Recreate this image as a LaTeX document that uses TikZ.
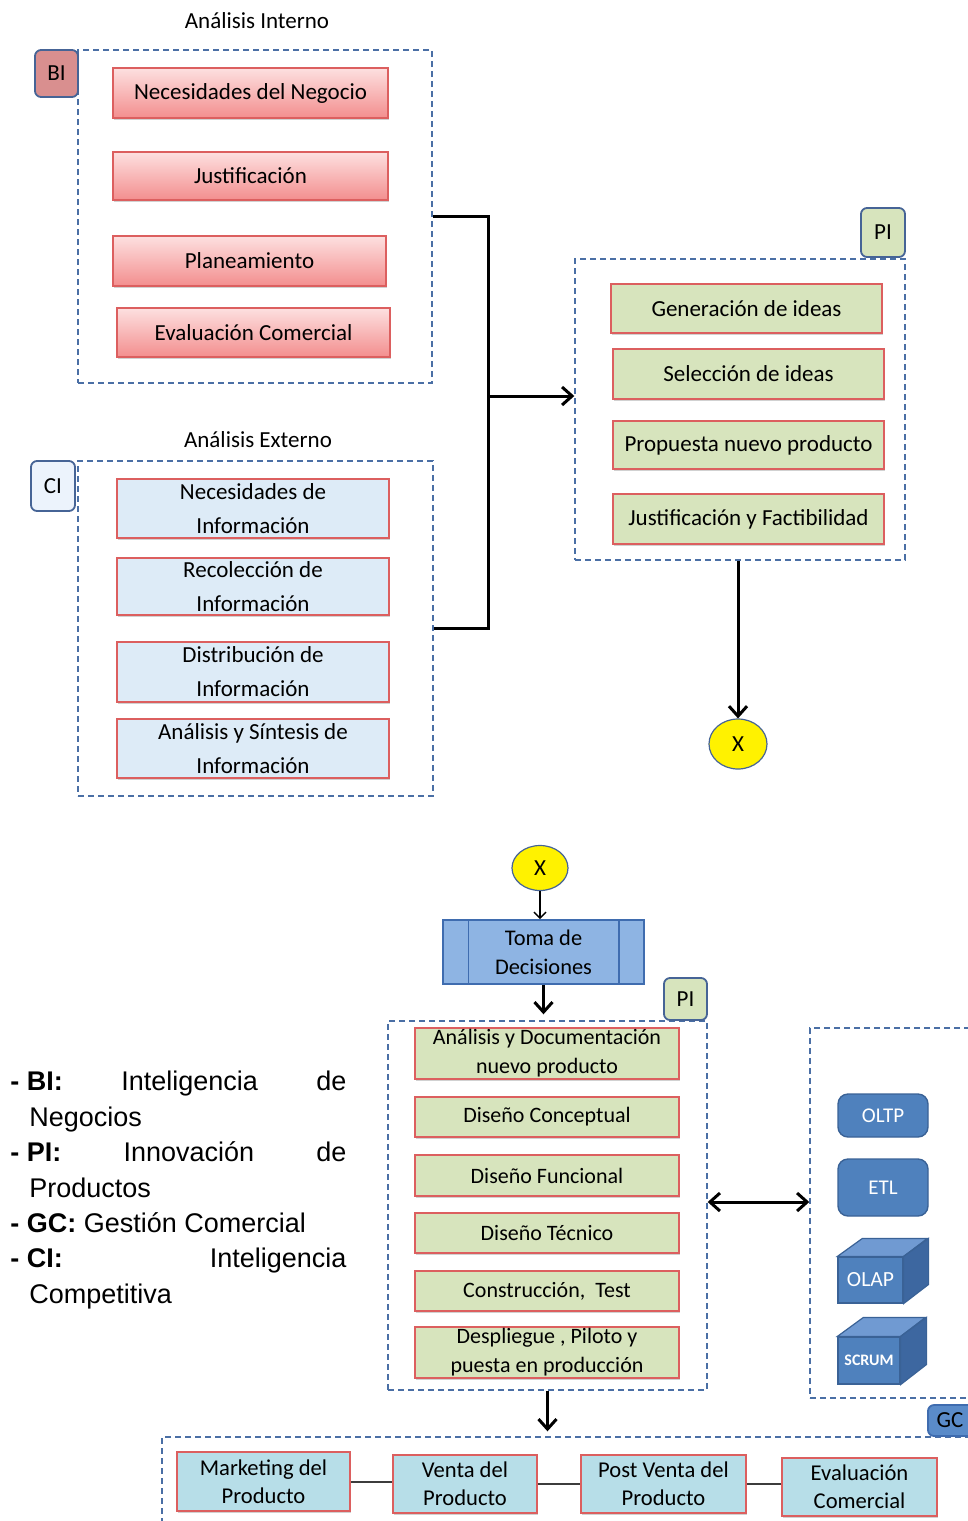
\documentclass[tikz,border=0pt]{standalone}
\usepackage{fontspec}
\setmainfont{Carlito}
\newfontfamily\legendfont{Liberation Sans}
\usetikzlibrary{arrows.meta,shadows,calc,shapes.geometric}

\definecolor{dashblue}{RGB}{74,111,165}
\definecolor{tagedge}{RGB}{70,100,150}
\definecolor{redtop}{RGB}{253,224,224}
\definecolor{redbot}{RGB}{243,142,142}
\definecolor{rededge}{RGB}{220,95,95}
\definecolor{greenfill}{RGB}{215,228,189}
\definecolor{paleblue}{RGB}{221,235,247}
\definecolor{cyanfill}{RGB}{183,222,232}
\definecolor{tomafill}{RGB}{142,180,227}
\definecolor{tomaedge}{RGB}{63,108,175}
\definecolor{toolblue}{RGB}{79,129,189}
\definecolor{tooledge}{RGB}{58,98,150}
\definecolor{tooltop}{RGB}{112,154,210}
\definecolor{toolside}{RGB}{61,103,160}
\definecolor{tagred}{RGB}{217,143,143}
\definecolor{tagblue}{RGB}{236,243,252}
\definecolor{gctagfill}{RGB}{90,139,201}
\definecolor{linkgray}{RGB}{60,60,60}

% box from its corners: style, name, x1, y1, x2, y2, text
\newcommand\placebox[7]{%
  \node[#1, minimum width={(#5)*0.5pt-(#3)*0.5pt},
        minimum height={(#6)*0.5pt-(#4)*0.5pt}]
       (#2) at ({((#3)+(#5))/2},{((#4)+(#6))/2}) {#7};}
% one legend entry: abbreviation and meaning
\newcommand\legendentry[2]{\hangindent=9.5pt\hangafter=1
  \mbox{\textbf{- #1:}}\ #2\par}

\begin{document}
\begin{tikzpicture}[x=0.5pt,y=-0.5pt,
  font=\fontsize{11.5}{14}\selectfont,
  group/.style={draw=dashblue, dash pattern=on 3pt off 2pt, line width=0.7pt, inner sep=0},
  tag/.style={draw=tagedge, line width=0.9pt, rounded corners=3pt, inner sep=0},
  shadowed/.style={drop shadow={shadow xshift=0.6pt, shadow yshift=-1.2pt, opacity=0.3, fill=black!60}},
  stepred/.style={draw=rededge, line width=0.8pt, top color=redtop, bottom color=redbot, shadowed, inner sep=0, align=center},
  stepgreen/.style={draw=rededge, line width=0.8pt, fill=greenfill, shadowed, inner sep=0, align=center},
  stepblue/.style={draw=rededge, line width=0.8pt, fill=paleblue, shadowed, inner sep=0, align=center, font=\fontsize{11.5}{17}\selectfont},
  stepcyan/.style={draw=rededge, line width=0.8pt, fill=cyanfill, shadowed, inner sep=0, align=center, font=\fontsize{11.3}{14}\selectfont},
  lowgreen/.style={stepgreen, font=\fontsize{11}{14.5}\selectfont},
  xnode/.style={ellipse, draw=tagedge, fill=yellow, line width=0.6pt, inner sep=0},
  tool/.style={draw=tooledge, fill=toolblue, line width=0.7pt, rounded corners=5pt, inner sep=0, text=white, font=\fontsize{10.5}{12}\selectfont},
  cubefront/.style={draw=tooledge, fill=toolblue, line width=0.6pt, inner sep=0, text=white},
  flow/.style={line width=1.5pt, -{Straight Barb[length=5pt,width=9pt]}},
  thinflow/.style={line width=0.75pt, -{Straight Barb[length=3pt,width=6pt]}},
  link/.style={draw=linkgray, line width=1pt}]

\useasboundingbox (0,0) rectangle (968,1521);
\clip (0,0) rectangle (968,1521);

% ---------- internal analysis (BI)
\node (tbi) at (257,21) {Análisis Interno};
\placebox{group}{bibox}{78}{50}{432}{383}{}
\placebox{tag, fill=tagred}{bitag}{35}{50}{78}{97}{BI}
\placebox{stepred}{bi1}{113}{68}{388}{118}{Necesidades del Negocio}
\placebox{stepred}{bi2}{113}{152}{388}{200}{Justificación}
\placebox{stepred}{bi3}{113}{236}{386}{286}{Planeamiento}
\placebox{stepred}{bi4}{117}{308}{390}{357}{Evaluación Comercial}

% ---------- external analysis (CI)
\node (tci) at (258,440) {Análisis Externo};
\placebox{group}{cibox}{78}{461}{433}{796}{}
\placebox{tag, fill=tagblue}{citag}{31}{461}{75}{511}{CI}
\placebox{stepblue}{ci1}{117}{479}{389}{538}{Necesidades de\\Información}
\placebox{stepblue}{ci2}{117}{558}{389}{615}{Recolección de\\Información}
\placebox{stepblue}{ci3}{117}{642}{389}{702}{Distribución de\\Información}
\placebox{stepblue}{ci4}{117}{719}{389}{778}{Análisis y Síntesis de\\Información}

% ---------- product innovation, ideas (PI)
\placebox{group}{pibox}{575}{259}{905}{560}{}
\placebox{tag, fill=greenfill}{pitag}{861}{208}{905}{257}{PI}
\placebox{stepgreen}{pi1}{611}{284}{882}{333}{Generación de ideas}
\placebox{stepgreen}{pi2}{613}{349}{884}{399}{Selección de ideas}
\placebox{stepgreen}{pi3}{613}{421}{884}{469}{Propuesta nuevo producto}
\placebox{stepgreen}{pi4}{613}{494}{884}{544}{Justificación y Factibilidad}

\node[xnode, minimum width=29pt, minimum height=25pt] (x1) at (738,744) {X};

% joining both analyses into PI
\coordinate (join) at (488,396);
\draw[line width=1.5pt] (bibox.east) -| (join);
\draw[line width=1.5pt] (cibox.east) -| (join);
\draw[flow] (join) -- (join -| pibox.west);
\draw[flow] (x1.north |- pibox.south) -- (x1.north);

% ---------- lower flow
\node[xnode, minimum width=28pt, minimum height=22.5pt] (x2) at (540,868) {X};
\placebox{draw=tomaedge, fill=tomafill, line width=0.8pt, inner sep=0, align=center, font=\fontsize{11.2}{14.5}\selectfont}{toma}{443}{920}{644}{984}{Toma de\\Decisiones}
\draw[tomaedge, line width=0.7pt] ($(toma.north west)+(26,0)$) -- ($(toma.south west)+(26,0)$);
\draw[tomaedge, line width=0.7pt] ($(toma.north east)+(-26,0)$) -- ($(toma.south east)+(-26,0)$);
\draw[thinflow] (x2.south) -- (x2.south |- toma.north);

\placebox{group}{pidbox}{388}{1021}{707}{1390}{}
\placebox{tag, fill=greenfill}{pidtag}{664}{978}{707}{1020}{PI}
\draw[flow] (toma.south) -- ($(toma.south |- pidbox.north)+(0,-6)$);
\placebox{lowgreen}{d1}{415}{1028}{679}{1079}{Análisis y Documentación\\nuevo producto}
\placebox{lowgreen}{d2}{415}{1097}{679}{1137}{Diseño Conceptual}
\placebox{lowgreen}{d3}{415}{1155}{679}{1196}{Diseño Funcional}
\placebox{lowgreen}{d4}{415}{1213}{679}{1253}{Diseño Técnico}
\placebox{lowgreen}{d5}{415}{1271}{679}{1311}{Construcción,\ \ Test}
\placebox{lowgreen}{d6}{415}{1327}{679}{1378}{Despliegue , Piloto y\\puesta en producción}

% ---------- tools
\placebox{group}{toolbox}{810}{1028}{1010}{1398}{}
\coordinate (mid) at (760,1202);
\draw[line width=1.5pt, {Straight Barb[length=5pt,width=9pt]}-{Straight Barb[length=5pt,width=9pt]}]
  (mid -| pidbox.east) -- (mid -| toolbox.west);
\placebox{tool}{oltp}{838}{1094}{928}{1137}{OLTP}
\placebox{tool}{etl}{838}{1159}{928}{1216}{ETL}

\placebox{cubefront, font=\fontsize{10.8}{12}\selectfont}{olap}{838}{1257}{903}{1303}{OLAP}
\draw[fill=tooltop, draw=tooledge, line width=0.6pt] (olap.north west) -- ++(25,-18) -- ++(65,0) -- (olap.north east) -- cycle;
\draw[fill=toolside, draw=tooledge, line width=0.6pt] (olap.north east) -- ++(25,-18) -- ++(0,46) -- (olap.south east) -- cycle;

\placebox{cubefront, font=\bfseries\fontsize{8}{9}\selectfont}{scrum}{838}{1337}{900}{1384}{SCRUM}
\draw[fill=tooltop, draw=tooledge, line width=0.6pt] (scrum.north west) -- ++(26,-19) -- ++(62,0) -- (scrum.north east) -- cycle;
\draw[fill=toolside, draw=tooledge, line width=0.6pt] (scrum.north east) -- ++(26,-19) -- ++(0,47) -- (scrum.south east) -- cycle;

% ---------- commercial management (GC)
\placebox{group}{gcbox}{162}{1437}{1010}{1560}{}
\placebox{tag, fill=gctagfill, draw=tomaedge}{gctag}{928}{1405}{994}{1436}{\hspace*{-11pt}GC}
\draw[flow] (pidbox.south) -- ($(pidbox.south |- gcbox.north)+(0,-5)$);
\placebox{stepcyan}{g1}{177}{1452}{350}{1511}{Marketing del\\Producto}
\placebox{stepcyan}{g2}{393}{1455}{537}{1513}{Venta del\\Producto}
\placebox{stepcyan}{g3}{581}{1455}{746}{1513}{Post Venta del\\Producto}
\placebox{stepcyan}{g4}{782}{1458}{937}{1516}{Evaluación\\Comercial}
\draw[link] (g1.east) -- (g1.east -| g2.west);
\draw[link] (g2.east) -- (g2.east -| g3.west);
\draw[link] (g3.east) -- (g3.east -| g4.west);

% ---------- legend
\node[anchor=north west, inner sep=0, text width=168pt, align=justify,
      font=\legendfont\fontsize{13.5}{17.7}\selectfont] (legend) at (10,1071)
{\parindent=0pt\tolerance=10000\hyphenpenalty=10000\exhyphenpenalty=10000
 \legendentry{BI}{Inteligencia de Negocios}
 \legendentry{PI}{Innovación de Productos}
 \legendentry{GC}{Gestión Comercial}
 \legendentry{CI}{Inteligencia Competitiva}};
\end{tikzpicture}
\end{document}
